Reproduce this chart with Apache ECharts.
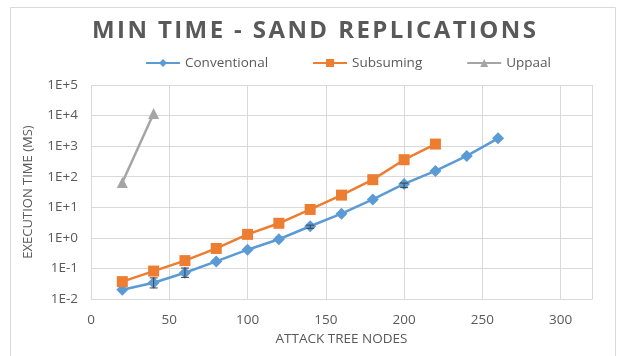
<!DOCTYPE html>
<html>
<head>
<meta charset="utf-8">
<script src="https://cdn.jsdelivr.net/npm/echarts@6/dist/echarts.min.js"></script>
<style>html,body{margin:0;padding:0;background:#fff;}#c{width:628px;height:356px;}</style>
</head>
<body>
<div id="c"></div>
<script>
const convX = [20, 40, 60, 80, 100, 120, 140, 160, 180, 200, 220, 240, 260];
const convY = [0.02, 0.034, 0.072, 0.17, 0.41, 0.9, 2.4, 6.2, 18, 58, 155, 480, 1800];
const subsX = [20, 40, 60, 80, 100, 120, 140, 160, 180, 200, 220];
const subsY = [0.037, 0.082, 0.18, 0.45, 1.3, 3.0, 8.5, 25, 80, 360, 1170];
const uppX = [20, 40];
const uppY = [65, 11700];
// error bars on Conventional: [x, low, high]
const errX = [40, 60, 140, 200];
const errLow = [0.023, 0.051, 2.05, 44];
const errHigh = [0.049, 0.103, 2.6, 62];
const xTicks = [0, 50, 100, 150, 200, 250, 300];
const yTicks = ['1E-2','1E-1','1E+0','1E+1','1E+2','1E+3','1E+4','1E+5'];
const titleText = 'MIN TIME - SAND REPLICATIONS';

const font = '"Open Sans", "Noto Sans", sans-serif';
const txt = '#595959';
const spaced = s => s.split('').join('\u200A');
const chart = echarts.init(document.getElementById('c'), null, {renderer: 'canvas'});
const zip = (xs, ys) => xs.map((x, i) => [x, ys[i]]);
const errData = errX.map((x, i) => [x, errLow[i], errHigh[i]]);

chart.setOption({
  animation: false,
  backgroundColor: '#fff',
  color: ['#5B9BD5', '#ED7D31', '#A5A5A5'],
  graphic: [{
    type: 'rect', shape: {x: 10.5, y: 7.5, width: 605, height: 360},
    style: {fill: 'none', stroke: '#d9d9d9', lineWidth: 1}, silent: true, z: -10
  }],
  title: {
    text: spaced(titleText),
    left: 'center', top: 14,
    textStyle: {fontFamily: font, fontWeight: 'bold', fontSize: 24, color: txt}
  },
  legend: {
    top: 51, left: 140, itemGap: 44, itemWidth: 34, itemHeight: 10,
    textStyle: {fontFamily: font, fontSize: 13.5, color: txt},
    data: ['Conventional', 'Subsuming', 'Uppaal']
  },
  grid: {left: 91, right: 36, top: 85, bottom: 57},
  xAxis: {
    type: 'value', min: 0, max: 320, interval: 50,
    name: 'ATTACK TREE NODES', nameLocation: 'middle', nameGap: 33,
    nameTextStyle: {fontFamily: font, fontSize: 13.5, color: txt},
    axisLine: {show: true, lineStyle: {color: '#d9d9d9'}},
    axisTick: {show: false},
    axisLabel: {fontFamily: font, fontSize: 13.5, color: txt, margin: 14,
      formatter: v => xTicks.includes(v) ? String(v) : ''},
    splitLine: {show: true, lineStyle: {color: '#d9d9d9', width: 1}}
  },
  yAxis: {
    type: 'log', logBase: 10, min: 0.01, max: 100000,
    name: 'EXECUTION TIME (MS)', nameLocation: 'middle', nameGap: 56,
    nameTextStyle: {fontFamily: font, fontSize: 13, color: txt},
    axisLine: {show: false},
    axisTick: {show: false},
    axisLabel: {fontFamily: font, fontSize: 13.5, color: txt, margin: 13,
      formatter: v => { const e = Math.round(Math.log10(v)); return yTicks[e + 2] || ''; }},
    splitLine: {show: true, lineStyle: {color: '#d9d9d9', width: 1}}
  },
  series: [
    {name: 'Conventional', type: 'line', data: zip(convX, convY), symbol: 'diamond', symbolSize: 12,
      lineStyle: {width: 2.5}, z: 3},
    {name: 'Subsuming', type: 'line', data: zip(subsX, subsY), symbol: 'rect', symbolSize: 11,
      lineStyle: {width: 2.5}, z: 3},
    {name: 'Uppaal', type: 'line', data: zip(uppX, uppY), symbol: 'triangle', symbolSize: 11,
      lineStyle: {width: 2.5}, z: 3},
    {name: 'err', type: 'custom', data: errData, z: 4,
      renderItem: (params, api) => {
        const x = api.value(0);
        const lo = api.coord([x, api.value(1)]);
        const hi = api.coord([x, api.value(2)]);
        const w = 4;
        const st = {stroke: '#404040', lineWidth: 1};
        return {type: 'group', children: [
          {type: 'line', shape: {x1: lo[0], y1: lo[1], x2: hi[0], y2: hi[1]}, style: st},
          {type: 'line', shape: {x1: lo[0]-w, y1: lo[1], x2: lo[0]+w, y2: lo[1]}, style: st},
          {type: 'line', shape: {x1: hi[0]-w, y1: hi[1], x2: hi[0]+w, y2: hi[1]}, style: st}
        ]};
      }}
  ]
});
</script>
</body>
</html>
